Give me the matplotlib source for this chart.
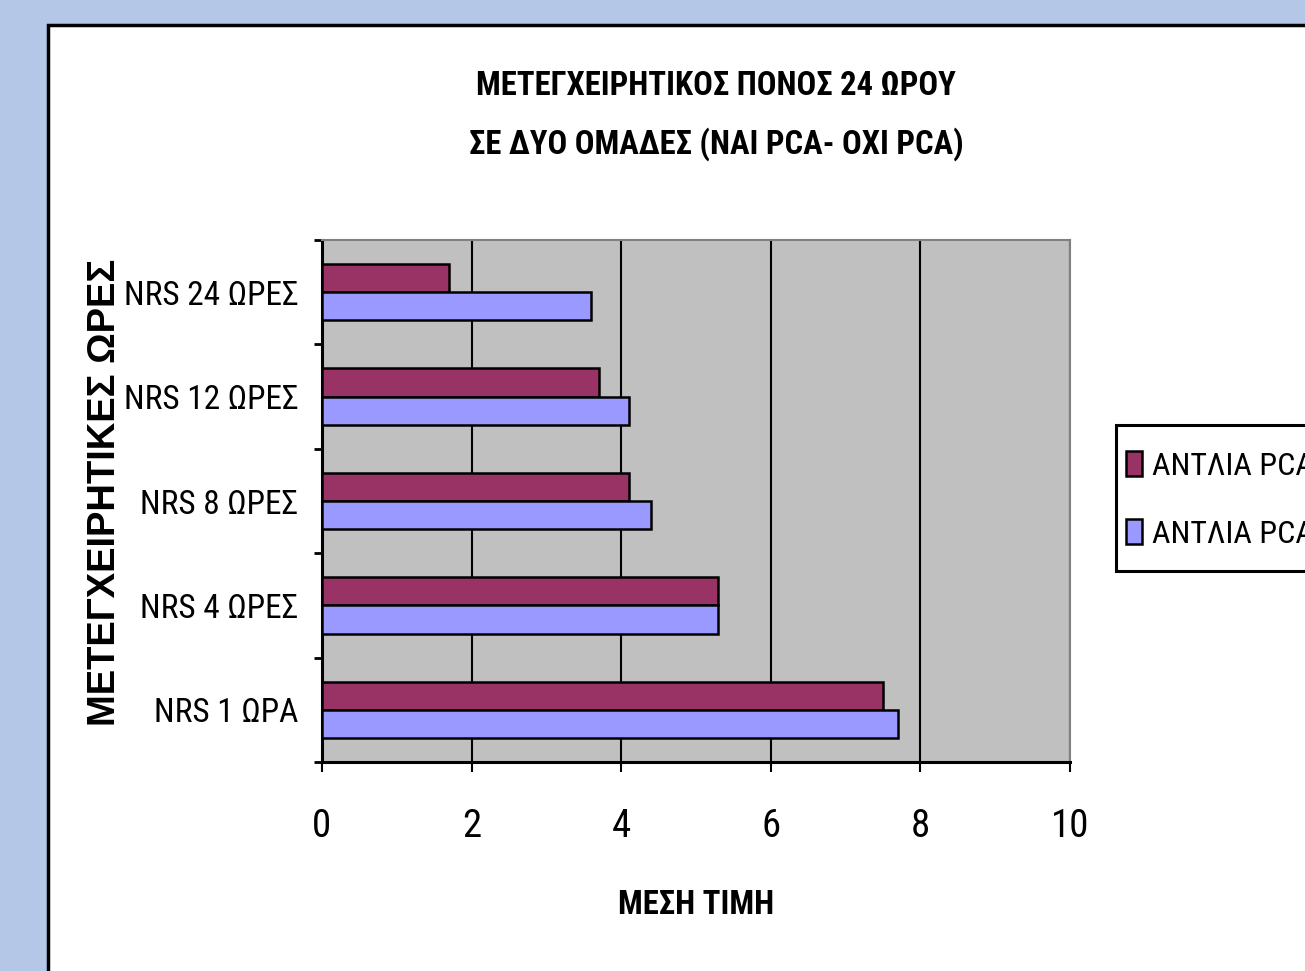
import matplotlib.pyplot as plt
from matplotlib.patches import Rectangle

# Δεδομένα: μέση τιμή NRS ανά χρονικό σημείο
categories = ['NRS 1 ΩΡΑ', 'NRS 4 ΩΡΕΣ', 'NRS 8 ΩΡΕΣ', 'NRS 12 ΩΡΕΣ', 'NRS 24 ΩΡΕΣ']
pca_a = [7.5, 5.3, 4.1, 3.7, 1.7]   # μπορντό σειρά
pca_b = [7.7, 5.3, 4.4, 4.1, 3.6]   # μπλε σειρά
legend_labels = ['ΑΝΤΛΙΑ PCA', 'ΑΝΤΛΙΑ PCA']
x_ticks = [0, 2, 4, 6, 8, 10]

fam_narrow = ['Roboto Condensed', 'DejaVu Sans']
fam_wide = ['Liberation Sans', 'DejaVu Sans']

W, H = 1305, 971
fig = plt.figure(figsize=(W / 100, H / 100), dpi=100)
fig.patch.set_facecolor('#b4c7e7')

# λευκό πλαίσιο γραφήματος
fig.add_artist(Rectangle((48 / W, -0.05), 1.0, 1 - 25 / H + 0.05,
                         transform=fig.transFigure, facecolor='white',
                         edgecolor='black', linewidth=2.5, zorder=0))

ax = fig.add_axes([322 / W, 1 - 762 / H, 748 / W, 522 / H])
ax.set_facecolor('#c0c0c0')

y = list(range(len(categories)))
h = 0.27
ax.barh([v + h / 2 for v in y], pca_a, height=h, color='#993366',
        edgecolor='black', linewidth=1.8, label=legend_labels[0], zorder=3)
ax.barh([v - h / 2 for v in y], pca_b, height=h, color='#9999ff',
        edgecolor='black', linewidth=1.8, label=legend_labels[1], zorder=3)

ax.set_xlim(0, 10)
ax.set_ylim(-0.5, len(categories) - 0.5)
ax.set_xticks(x_ticks)
ax.set_xticklabels([str(t) for t in x_ticks], family=fam_narrow, fontsize=28)
ax.set_yticks(y)
ax.set_yticklabels(categories, family=fam_narrow, fontsize=24)
ax.set_yticks([v - 0.5 for v in range(len(categories) + 1)], minor=True)
ax.tick_params(axis='y', which='major', length=0, pad=17)
ax.tick_params(axis='y', which='minor', length=6, width=2, color='black')
ax.tick_params(axis='x', length=7, width=1.5, pad=26)

ax.grid(axis='x', color='black', linewidth=1.5)
ax.set_axisbelow(True)

for side in ['left', 'bottom']:
    ax.spines[side].set_color('black')
    ax.spines[side].set_linewidth(2.2)
for side in ['top', 'right']:
    ax.spines[side].set_color('#808080')
    ax.spines[side].set_linewidth(1.5)

fig.text(716 / W, 1 - 86 / H, 'ΜΕΤΕΓΧΕΙΡΗΤΙΚΟΣ ΠΟΝΟΣ 24 ΩΡΟΥ', ha='center', va='center',
         family=fam_narrow, fontweight='bold', fontsize=23.5)
fig.text(716 / W, 1 - 144 / H, 'ΣΕ ΔΥΟ ΟΜΑΔΕΣ (ΝΑΙ PCA- ΟΧΙ PCA)', ha='center', va='center',
         family=fam_narrow, fontweight='bold', fontsize=23.5)
fig.text(696 / W, 1 - 905 / H, 'ΜΕΣΗ ΤΙΜΗ', ha='center', va='center',
         family=fam_narrow, fontweight='bold', fontsize=23.5)
fig.text(105 / W, 1 - 492 / H, 'ΜΕΤΕΓΧΕΙΡΗΤΙΚΕΣ ΩΡΕΣ', ha='center', va='center',
         rotation=90, family=fam_wide, fontweight='bold', fontsize=27.5)

# πλαίσιο υπομνήματος (συνεχίζει πέρα από το δεξί άκρο)
fig.add_artist(Rectangle((1116 / W, 1 - 571 / H), 0.3, 146 / H,
                         transform=fig.transFigure, facecolor='white',
                         edgecolor='black', linewidth=2.2, zorder=1))
leg = fig.legend(loc='upper left', bbox_to_anchor=(1126 / W, 1 - 451 / H),
                 prop={'family': fam_narrow, 'size': 23}, frameon=False,
                 handlelength=0.5, handleheight=0.82, handletextpad=0.31,
                 labelspacing=1.22, borderpad=0, borderaxespad=0)
leg.set_zorder(2)

fig.savefig('out.png', dpi=100, facecolor=fig.get_facecolor())
